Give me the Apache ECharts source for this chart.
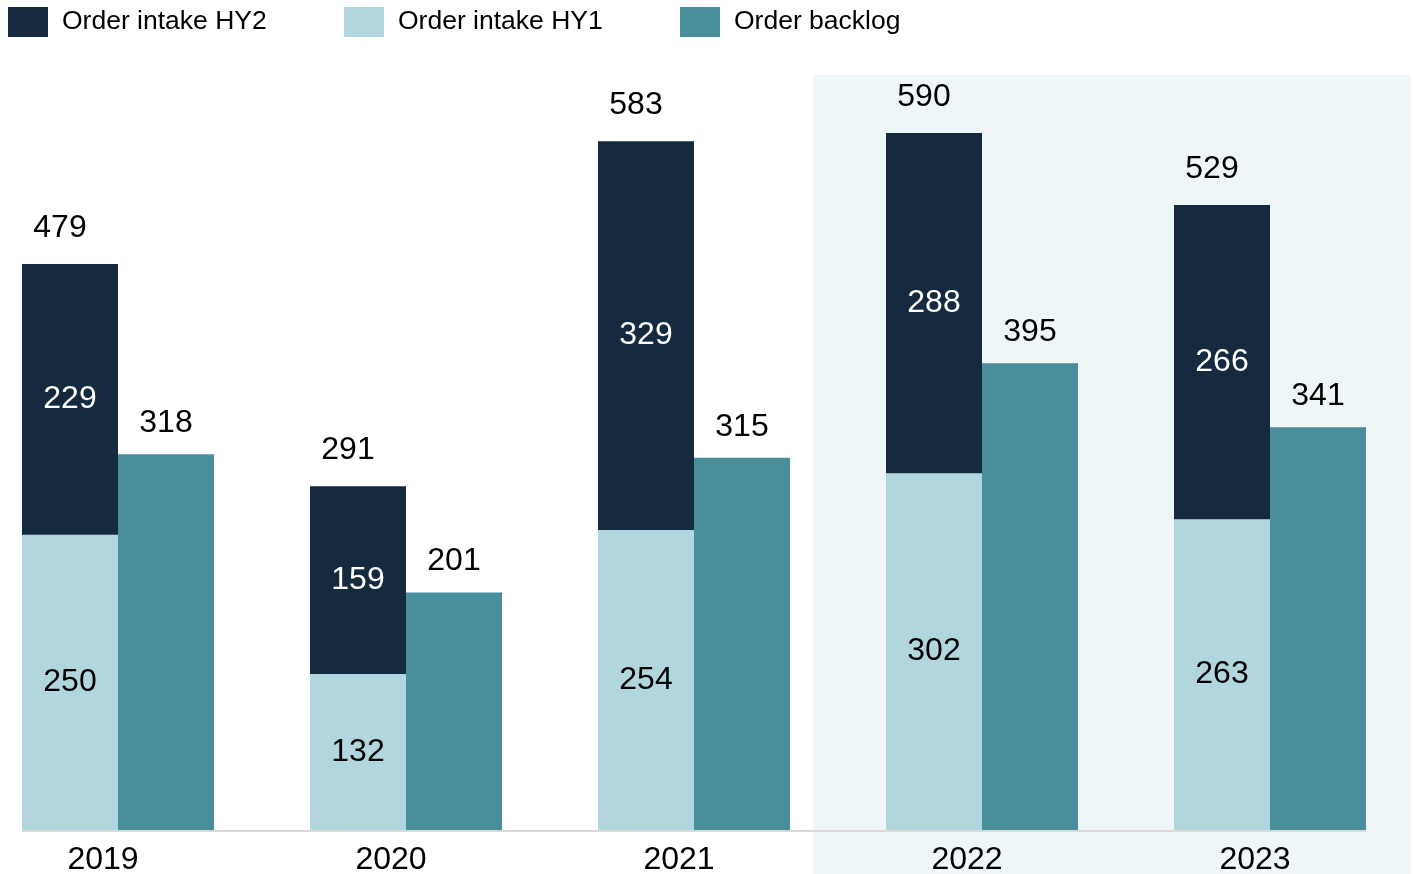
<!DOCTYPE html>
<html>
<head>
<meta charset="utf-8">
<script src="https://cdn.jsdelivr.net/npm/echarts@6/dist/echarts.min.js"></script>
<style>
html,body{margin:0;padding:0;background:#fff;}
#chart{width:1417px;height:874px;}
</style>
</head>
<body>
<div id="chart"></div>
<script>
const years = ['2019', '2020', '2021', '2022', '2023'];
const intakeHY1 = [250, 132, 254, 302, 263];
const intakeHY2 = [229, 159, 329, 288, 266];
const intakeTotal = [479, 291, 583, 590, 529];
const backlog = [318, 201, 315, 395, 341];

const FONT = 'Liberation Sans, Arial, sans-serif';
const C_HY2 = '#152A3F';
const C_HY1 = '#B1D6DE';
const C_BL = '#4A8E9C';
const NUM_SIZE = 32;

const chart = echarts.init(document.getElementById('chart'));

function legendAt(left, name) {
  return {
    left: left, top: 7, padding: 0,
    itemWidth: 40, itemHeight: 30,
    icon: 'rect',
    selectedMode: false,
    data: [name],
    textStyle: { fontFamily: FONT, fontSize: 26.5, color: '#000', padding: [2, 0, 0, 9] }
  };
}

chart.setOption({
  animation: false,
  backgroundColor: '#ffffff',
  legend: [
    legendAt(8, 'Order intake HY2'),
    legendAt(344, 'Order intake HY1'),
    legendAt(680, 'Order backlog')
  ],
  graphic: [
    {
      type: 'rect', z: -10, silent: true,
      shape: { x: 813, y: 75, width: 598, height: 799 },
      style: { fill: '#EEF6F8' }
    },
    {
      type: 'line', z: 100, silent: true,
      shape: { x1: 22, y1: 831, x2: 1366, y2: 831 },
      style: { stroke: '#D9D9D9', lineWidth: 2 }
    }
  ],
  grid: { left: -26, width: 1440, top: 3, bottom: 44, containLabel: false, outerBoundsMode: 'none' },
  xAxis: {
    type: 'category',
    data: years,
    axisLine: { show: false },
    axisTick: { show: false },
    axisLabel: {
      fontFamily: FONT, fontSize: NUM_SIZE, color: '#000',
      margin: 14, padding: [0, 30, 0, 0]
    }
  },
  yAxis: {
    type: 'value', min: 0, max: 700, show: false,
    splitLine: { show: false }
  },
  series: [
    {
      name: 'Order intake HY1', type: 'bar', stack: 'intake',
      data: intakeHY1, barWidth: 96, barGap: '0%',
      itemStyle: { color: C_HY1 },
      label: { show: true, position: 'inside', fontFamily: FONT, fontSize: NUM_SIZE, color: '#000' }
    },
    {
      name: 'Order intake HY2', type: 'bar', stack: 'intake',
      data: intakeHY2, barWidth: 96, barGap: '0%',
      itemStyle: { color: C_HY2 },
      label: { show: true, position: 'inside', fontFamily: FONT, fontSize: NUM_SIZE, color: '#fff' }
    },
    {
      name: 'Order backlog', type: 'bar',
      data: backlog, barWidth: 96, barGap: '0%',
      itemStyle: { color: C_BL },
      label: { show: true, position: 'top', distance: 15, fontFamily: FONT, fontSize: NUM_SIZE, color: '#000' }
    },
    {
      name: 'Total', type: 'scatter',
      data: intakeTotal, symbolSize: 0,
      itemStyle: { color: '#000', opacity: 1 },
      silent: true,
      label: {
        show: true, position: 'top', distance: 20, offset: [-58, 0],
        fontFamily: FONT, fontSize: NUM_SIZE, color: '#000',
        textBorderWidth: 0, opacity: 1
      }
    }
  ]
});
</script>
</body>
</html>
